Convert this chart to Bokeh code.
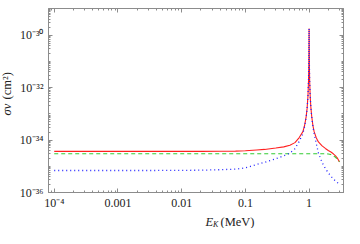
import math
from bokeh.plotting import figure
from bokeh.layouts import row, column
from bokeh.models import (LogAxis, FixedTicker, CustomJSTickFormatter, Label,
                          ColumnDataSource, Range1d)
from bokeh.embed import file_html
from bokeh.resources import INLINE

# ---- data ----
energy_mev = [1e-4, 3e-4, 1e-3, 3e-3, 0.01, 0.02, 0.04, 0.07, 0.1, 0.15, 0.2, 0.3,
              0.4, 0.5, 0.6, 0.7, 0.8, 0.85, 0.9, 0.93, 0.96, 0.98, 0.99, 0.995,
              1.0, 1.005, 1.01, 1.02, 1.04, 1.07, 1.1, 1.15, 1.2, 1.3, 1.4, 1.6,
              1.8, 2.0, 2.2, 2.4, 2.6, 2.8, 3.0]

sigma_v_total = [3.7e-35, 3.7e-35, 3.7e-35, 3.7e-35, 3.7e-35, 3.7e-35, 3.75e-35,
                 3.8e-35, 3.9e-35, 4.2e-35, 4.4e-35, 5.0e-35, 5.5e-35, 6.4e-35,
                 8.0e-35, 1.25e-34, 2.1e-34, 3.6e-34, 7.9e-34, 1.58e-33, 4.7e-33,
                 1.9e-32, 7.6e-32, 3.2e-31, 1.8e-30, 3.2e-31, 7.6e-32, 1.9e-32,
                 4.7e-33, 1.58e-33, 7.9e-34, 3.5e-34, 2.1e-34, 1.2e-34, 8.5e-35,
                 6.0e-35, 4.8e-35, 4.0e-35, 3.5e-35, 3.0e-35, 2.5e-35, 2.0e-35,
                 1.45e-35]

sigma_v_direct = [3.0e-35, 3.0e-35, 3.0e-35, 3.0e-35, 3.0e-35, 3.0e-35, 3.0e-35,
                  3.0e-35, 3.0e-35, 3.0e-35, 3.0e-35, 3.0e-35, 3.0e-35, 3.0e-35,
                  3.0e-35, 3.0e-35, 3.0e-35, 3.0e-35, 3.0e-35, 3.0e-35, 3.0e-35,
                  3.0e-35, 3.0e-35, 3.0e-35, 3.0e-35, 3.0e-35, 3.0e-35, 3.0e-35,
                  3.0e-35, 3.0e-35, 3.0e-35, 3.0e-35, 3.0e-35, 3.0e-35, 3.0e-35,
                  3.0e-35, 3.0e-35, 2.95e-35, 2.8e-35, 2.5e-35, 2.2e-35, 1.8e-35,
                  1.5e-35]

sigma_v_resonant = [6.9e-36, 6.9e-36, 6.9e-36, 6.9e-36, 7.0e-36, 7.1e-36, 7.4e-36,
                    7.8e-36, 8.7e-36, 1.17e-35, 1.41e-35, 1.95e-35, 2.5e-35, 3.2e-35,
                    4.7e-35, 8.9e-35, 1.8e-34, 3.3e-34, 7.6e-34, 1.55e-33, 4.7e-33,
                    1.9e-32, 7.6e-32, 3.2e-31, 1.8e-30, 3.2e-31, 7.6e-32, 1.9e-32,
                    4.7e-33, 1.55e-33, 7.6e-34, 3.2e-34, 1.8e-34, 7.1e-35, 3.2e-35,
                    1.4e-35, 8.3e-36, 5.6e-36, 4.2e-36, 3.3e-36, 2.75e-36, 2.35e-36,
                    2.0e-36]

x_major_ticks = [1e-4, 1e-3, 1e-2, 1e-1, 1.0]
x_tick_labels = {"-4": "10\u207b\u2074", "-3": "0.001", "-2": "0.01", "-1": "0.1", "0": "1"}
y_major_ticks = [1e-36, 1e-34, 1e-32, 1e-30]
y_tick_labels = {"-36": "10\u207b\u00b3\u2076", "-34": "10\u207b\u00b3\u2074",
                 "-32": "10\u207b\u00b3\u00b2", "-30": "10\u207b\u00b3\u2070"}

# ---- main figure ----
FONT = "Liberation Serif"
AXIS_COLOR = "#8c8c8c"
TEXT_COLOR = "#222222"

p = figure(width=328, height=212, x_axis_type="log", y_axis_type="log",
           x_range=Range1d(10 ** -4.09, 10 ** 0.54),
           y_range=Range1d(1e-36, 10 ** -28.98),
           output_backend="svg", toolbar_location=None,
           min_border_left=31, min_border_right=1, min_border_top=8,
           min_border_bottom=17)
p.background_fill_color = "white"
p.border_fill_color = "white"
p.outline_line_color = AXIS_COLOR
p.xgrid.visible = False
p.ygrid.visible = False

x_minor = [m * 10 ** k for k in range(-5, 1) for m in range(1, 10)]
y_minor = [m * 10.0 ** k for k in range(-37, -28) for m in range(1, 10)]

x_fmt = CustomJSTickFormatter(args=dict(labels=x_tick_labels), code="""
    const k = String(Math.round(Math.log10(tick)));
    return labels[k] !== undefined ? labels[k] : "";
""")
y_fmt = CustomJSTickFormatter(args=dict(labels=y_tick_labels), code="""
    const k = String(Math.round(Math.log10(tick)));
    return labels[k] !== undefined ? labels[k] : "";
""")
blank_fmt = CustomJSTickFormatter(code="return '';")


def style_axis(ax, labels=True):
    ax.axis_line_color = AXIS_COLOR
    ax.major_tick_line_color = AXIS_COLOR
    ax.minor_tick_line_color = AXIS_COLOR
    ax.major_tick_in = 4
    ax.major_tick_out = 0
    ax.minor_tick_in = 2
    ax.minor_tick_out = 0
    ax.major_label_text_font = FONT
    ax.major_label_text_color = TEXT_COLOR
    ax.major_label_text_font_size = "12px" if labels else "0px"
    ax.major_label_standoff = 3 if labels else 0


xa = p.xaxis[0]
xa.ticker = FixedTicker(ticks=x_major_ticks, minor_ticks=x_minor)
xa.formatter = x_fmt
style_axis(xa)

ya = p.yaxis[0]
ya.ticker = FixedTicker(ticks=y_major_ticks, minor_ticks=y_minor)
ya.formatter = y_fmt
style_axis(ya)
ya.major_label_standoff = 5

top_axis = LogAxis(ticker=FixedTicker(ticks=x_major_ticks, minor_ticks=x_minor),
                   formatter=blank_fmt)
style_axis(top_axis, labels=False)
p.add_layout(top_axis, "above")

right_axis = LogAxis(ticker=FixedTicker(ticks=y_major_ticks, minor_ticks=y_minor),
                     formatter=blank_fmt)
style_axis(right_axis, labels=False)
p.add_layout(right_axis, "right")

src = ColumnDataSource(dict(e=energy_mev, tot=sigma_v_total,
                            direct=sigma_v_direct, res=sigma_v_resonant))

p.line("e", "tot", source=src, line_color="#ff2020", line_width=1.1)
p.line("e", "direct", source=src, line_color="#33cc33", line_width=1.1,
       line_dash="4 3")
p.line("e", "res", source=src, line_color="#2020ff", line_width=1.3,
       line_dash="1 3")


# ---- axis-title strips (real text) ----
def strip(w, h):
    f = figure(width=w, height=h, min_border=0, x_axis_location=None,
               y_axis_location=None, toolbar_location=None,
               output_backend="svg", x_range=Range1d(0, 1), y_range=Range1d(0, 1))
    f.outline_line_color = None
    f.xgrid.visible = False
    f.ygrid.visible = False
    f.background_fill_color = "white"
    f.border_fill_color = "white"
    return f


TXT = dict(x_units="screen", y_units="screen", text_font=FONT,
           text_baseline="middle", text_color=TEXT_COLOR)

ylab = strip(16, 228)
ylab.add_layout(Label(x=6, y=113, text="\u03c3v", angle=math.pi / 2,
                      text_font_style="italic", text_font_size="12.5px",
                      text_align="left", **TXT))
ylab.add_layout(Label(x=6, y=129, text="(cm\u00b2)", angle=math.pi / 2,
                      text_font_size="12.5px", text_align="left", **TXT))

xlab = strip(328, 16)
xlab.add_layout(Label(x=157, y=7, text="E", text_font_style="italic",
                      text_font_size="12.5px", **TXT))
xlab.add_layout(Label(x=164.5, y=4, text="K", text_font_style="italic",
                      text_font_size="8px", **TXT))
xlab.add_layout(Label(x=172, y=7, text="(MeV)", text_font_size="12.5px", **TXT))

layout = row(ylab, column(p, xlab, spacing=0), spacing=0)

open("out.html", "w").write(file_html(layout, INLINE))
